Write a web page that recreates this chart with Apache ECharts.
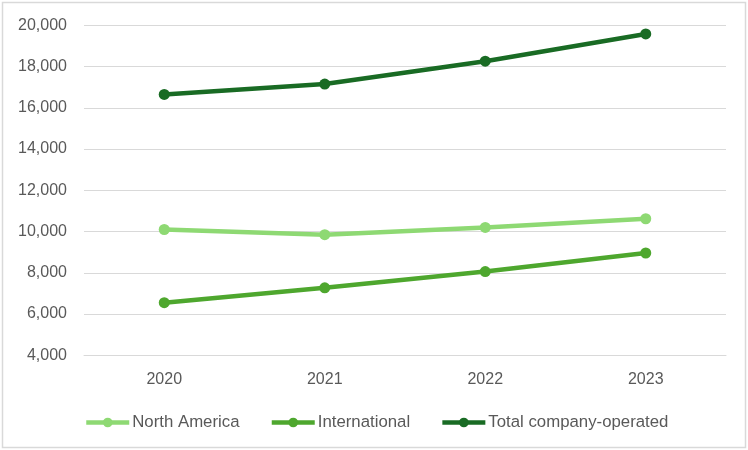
<!DOCTYPE html>
<html>
<head>
<meta charset="utf-8">
<script src="https://cdn.jsdelivr.net/npm/echarts@6/dist/echarts.min.js"></script>
<style>
html,body{margin:0;padding:0;background:#fff;}
#chart{width:748px;height:450px;}
</style>
</head>
<body>
<div id="chart"></div>
<script>
var categories = ['2020', '2021', '2022', '2023'];
var northAmerica = [10100, 9850, 10200, 10620];
var international = [6550, 7270, 8060, 8960];
var totalCompanyOperated = [16650, 17150, 18260, 19580];
var seriesNames = ['North America', 'International', 'Total company-operated'];
var yMin = 4000, yMax = 20000, yStep = 2000;

var colors = ['#8ED973', '#4EA72E', '#196B24'];
var chart = echarts.init(document.getElementById('chart'), null, {renderer: 'canvas'});
var fontFamily = '"Liberation Sans", Arial, sans-serif';

function mk(name, data, color, z) {
  return {
    name: name,
    type: 'line',
    data: data,
    z: z,
    symbol: 'circle',
    symbolSize: 11,
    showSymbol: true,
    lineStyle: {width: 4.5, color: color},
    itemStyle: {color: color},
    emphasis: {disabled: true},
    animation: false
  };
}

chart.setOption({
  animation: false,
  color: colors,
  graphic: [{
    type: 'rect',
    shape: {x: 2.5, y: 2.5, width: 743, height: 445},
    style: {fill: 'none', stroke: '#D9D9D9', lineWidth: 1.5},
    silent: true
  }],
  grid: {left: 84, right: 22, top: 25.3, bottom: 94.7, containLabel: false},
  legend: {
    data: seriesNames,
    left: 84,
    top: 414,
    padding: 0,
    itemWidth: 43,
    itemHeight: 12,
    itemGap: 30,
    textStyle: {color: '#595959', fontSize: 16.8, fontFamily: fontFamily, padding: [0, 0, 0, -2]},
    lineStyle: {width: 4.5}
  },
  xAxis: {
    type: 'category',
    data: categories,
    boundaryGap: true,
    axisLine: {show: true, lineStyle: {color: '#D9D9D9', width: 1}},
    axisTick: {show: false},
    axisLabel: {color: '#595959', fontSize: 16, fontFamily: fontFamily, margin: 16}
  },
  yAxis: {
    type: 'value',
    min: yMin,
    max: yMax,
    interval: yStep,
    axisLine: {show: false},
    axisTick: {show: false},
    splitLine: {show: true, lineStyle: {color: '#D9D9D9', width: 1}},
    axisLabel: {
      color: '#595959', fontSize: 16, fontFamily: fontFamily, margin: 17,
      formatter: function (v) { return v.toLocaleString('en-US'); }
    }
  },
  series: [
    mk(seriesNames[0], northAmerica, colors[0], 2),
    mk(seriesNames[1], international, colors[1], 3),
    mk(seriesNames[2], totalCompanyOperated, colors[2], 4)
  ]
});
</script>
</body>
</html>
